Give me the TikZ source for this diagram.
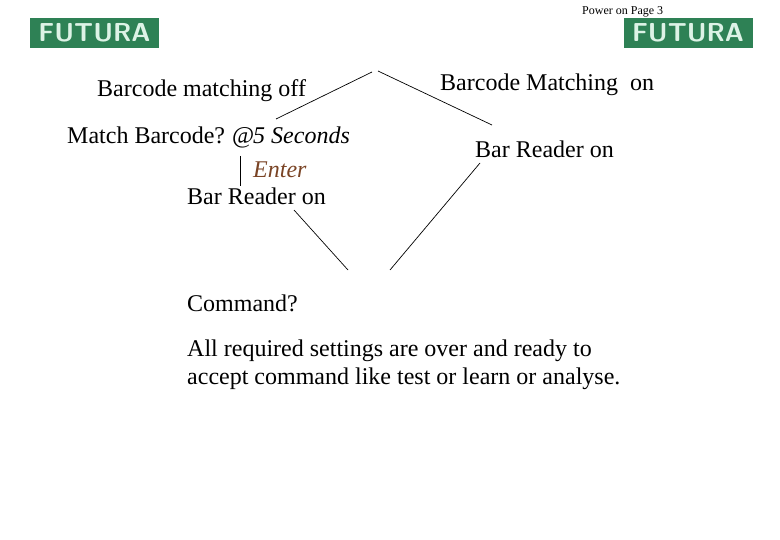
\documentclass[tikz,border=0pt]{standalone}
\usepackage{fontspec}
\setmainfont{Liberation Serif}
\definecolor{logogreen}{HTML}{2E8155}
\definecolor{logotext}{HTML}{DDF3E6}
\definecolor{enterbrown}{HTML}{7A4425}
\tikzset{txt/.style={anchor=base west,inner sep=0pt,font=\fontsize{24}{28}\selectfont},
logo/.style={fill=logogreen,text=logotext,minimum width=129pt,minimum height=30pt,inner sep=0pt,font=\sffamily\bfseries\fontsize{26}{26}\selectfont},
link/.style={draw=black,line width=.7pt}}
\begin{document}
\begin{tikzpicture}[x=1pt,y=-1pt]
\useasboundingbox (0,0) rectangle (780,540);

\node[logo] (logoleft) at (94.5,33) {\addfontfeature{LetterSpace=6}FUTURA};
\node[logo] (logoright) at (688,33) {\addfontfeature{LetterSpace=6}FUTURA};
\node[anchor=base west,inner sep=0pt,font=\fontsize{12}{14}\selectfont] (page) at (582,15) {Power on Page 3};

\node[txt] (matchoff) at (97,97) {Barcode matching off};
\node[txt] (matchon) at (440,91) {Barcode Matching\ \ on};
\node[txt] (askmatch) at (67,144) {Match Barcode? \kern-1pt@\kern-1pt\textit{5 Seconds}};
\node[txt,text=enterbrown] (enter) at (253,178) {\textit{Enter}};
\node[txt] (readeroff) at (187,205) {Bar Reader on};
\node[txt] (readeron) at (475,158) {Bar Reader on};
\node[txt] (command) at (187,312) {Command?};
\node[txt,align=left,anchor=north west] (ready) at (187,340) {All required settings are over and ready to\\accept command like test or learn or analyse.};

\coordinate (topleft) at (372,72);
\coordinate (topright) at (378,71);
\coordinate (offend) at (276,119);
\coordinate (onend) at (492,125);
\coordinate (vtop) at (240,156);
\coordinate (vbot) at (240,186);
\coordinate (joinleft) at (348,270);
\coordinate (joinright) at (390,270);
\coordinate (readeroffend) at (294,210);
\coordinate (readeronend) at (480,163);
\draw[link] (topleft)--(offend);
\draw[link] (topright)--(onend);
\draw[link] (vtop)--(vbot);
\draw[link] (readeroffend)--(joinleft);
\draw[link] (readeronend)--(joinright);
\end{tikzpicture}
\end{document}
